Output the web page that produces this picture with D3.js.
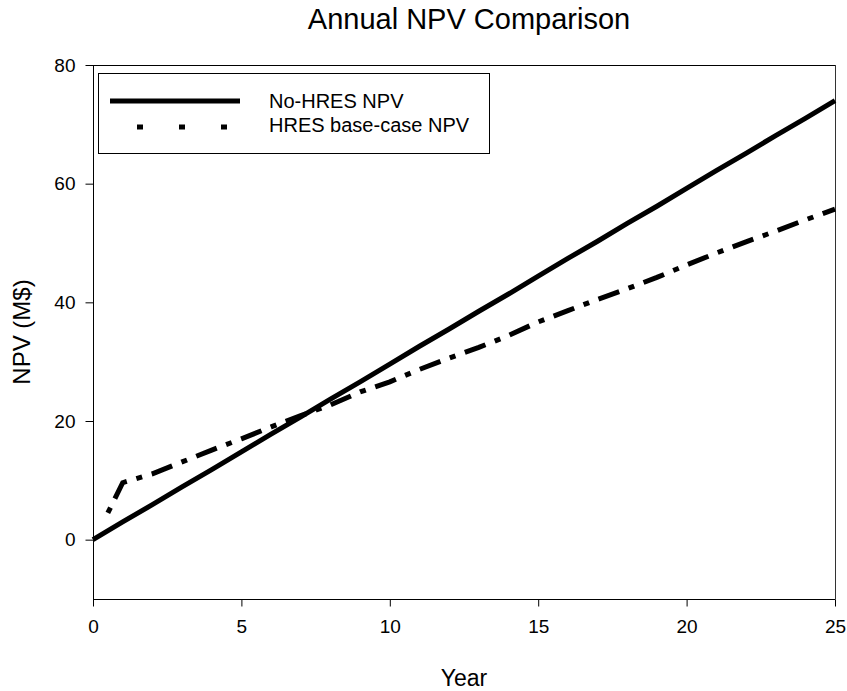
<!DOCTYPE html>
<html>
<head>
<meta charset="utf-8">
<script src="https://cdn.jsdelivr.net/npm/d3@7"></script>
<style>
  html, body { margin: 0; padding: 0; background: #fff; }
  text { font-family: "Liberation Sans", Arial, sans-serif; fill: #000; }
</style>
</head>
<body>
<svg id="chart" width="847" height="691"></svg>
<script>
// ---- Data ----
const years = [0, 1, 2, 3, 4, 5, 6, 7, 8, 9, 10, 11, 12, 13, 14, 15, 16, 17, 18, 19, 20, 21, 22, 23, 24, 25];
const noHresNPV = [0, 3.0, 5.9, 8.9, 11.8, 14.8, 17.8, 20.7, 23.7, 26.6, 29.6, 32.6, 35.5, 38.5, 41.4, 44.4, 47.4, 50.3, 53.3, 56.2, 59.2, 62.2, 65.1, 68.1, 71.0, 74.0];
const hresYears = [0.5, 1, 2, 3, 4, 5, 6, 7, 8, 9, 10, 11, 12, 13, 14, 15, 16, 17, 18, 19, 20, 21, 22, 23, 24, 25];
const hresNPV = [4.5, 9.6, 11.1, 13.1, 15.1, 17.0, 19.0, 20.9, 22.7, 24.9, 26.6, 28.7, 30.6, 32.4, 34.4, 36.7, 38.6, 40.5, 42.3, 44.2, 46.3, 48.3, 50.2, 52.0, 53.9, 55.7];
const xTicks = [0, 5, 10, 15, 20, 25];
const yTicks = [0, 20, 40, 60, 80];
const seriesNames = ["No-HRES NPV", "HRES base-case NPV"];
const titleText = "Annual NPV Comparison";
const xLabel = "Year";
const yLabel = "NPV (M$)";

// ---- Layout ----
const svg = d3.select("#chart");
const plot = { left: 93, right: 835, top: 65, bottom: 599 };

const x = d3.scaleLinear().domain([0, 25]).range([plot.left, plot.right]);
const y = d3.scaleLinear().domain([-10, 80]).range([plot.bottom, plot.top]);

// Frame (top & right)
svg.append("line").attr("x1", plot.left).attr("x2", plot.right + 0.5)
  .attr("y1", plot.top + 0.5).attr("y2", plot.top + 0.5)
  .attr("stroke", "#000").attr("stroke-width", 1);
svg.append("line").attr("x1", plot.right + 0.5).attr("x2", plot.right + 0.5)
  .attr("y1", plot.top).attr("y2", plot.bottom)
  .attr("stroke", "#333").attr("stroke-width", 1);

// Axes
const xAxis = d3.axisBottom(x).tickValues(xTicks).tickSize(7).tickPadding(13).tickFormat(d3.format("d"));
const yAxis = d3.axisLeft(y).tickValues(yTicks).tickSize(8).tickPadding(10).tickFormat(d3.format("d"));

const gx = svg.append("g").attr("transform", `translate(0,${plot.bottom + 0.5})`).call(xAxis);
const gy = svg.append("g").attr("transform", `translate(${plot.left + 0.5},0)`).call(yAxis);
[gx, gy].forEach(g => {
  g.select(".domain").attr("stroke", "#000").attr("stroke-width", 1);
  g.selectAll(".tick line").attr("stroke", "#000");
  g.selectAll(".tick text").style("font-size", "19px").style("font-family", "'Liberation Sans', Arial, sans-serif").attr("fill", "#000");
});
gx.select(".domain").attr("d", `M${plot.left},0H${plot.right + 0.5}`);
gy.select(".domain").attr("d", `M0,${plot.bottom}V${plot.top}`);

// Lines
const solidLine = d3.line().x((d, i) => x(years[i])).y(d => y(d));
const hresLine = d3.line().x((d, i) => x(hresYears[i])).y(d => y(d));

svg.append("path").datum(noHresNPV)
  .attr("d", solidLine)
  .attr("fill", "none").attr("stroke", "#000").attr("stroke-width", 5)
  .attr("stroke-linejoin", "round");

svg.append("path").datum(hresNPV)
  .attr("d", hresLine)
  .attr("fill", "none").attr("stroke", "#000").attr("stroke-width", 5)
  .attr("stroke-dasharray", "22 10 6 10")
  .attr("stroke-dashoffset", 32);

// Title & axis labels
svg.append("text").attr("x", (plot.left + plot.right) / 2 + 5).attr("y", 29)
  .attr("text-anchor", "middle").style("font-size", "29px").text(titleText);
svg.append("text").attr("x", (plot.left + plot.right) / 2).attr("y", 686)
  .attr("text-anchor", "middle").style("font-size", "23px").text(xLabel);
svg.append("text").attr("transform", `translate(30,${(plot.top + plot.bottom) / 2}) rotate(-90)`)
  .attr("text-anchor", "middle").style("font-size", "24px").text(yLabel);

// Legend
const lg = svg.append("g");
lg.append("rect").attr("x", 98.5).attr("y", 73.5).attr("width", 391).attr("height", 80)
  .attr("fill", "#fff").attr("stroke", "#000").attr("stroke-width", 1);
lg.append("line").attr("x1", 110).attr("x2", 240).attr("y1", 101).attr("y2", 101)
  .attr("stroke", "#000").attr("stroke-width", 5);
lg.append("line").attr("x1", 110).attr("x2", 240).attr("y1", 127).attr("y2", 127)
  .attr("stroke", "#000").attr("stroke-width", 5)
  .attr("stroke-dasharray", "6 36").attr("stroke-dashoffset", -27);
lg.selectAll("text.leg").data(seriesNames).join("text").attr("class", "leg")
  .attr("x", 269).attr("y", (d, i) => 108 + i * 24)
  .style("font-size", "20px").text(d => d);
</script>
</body>
</html>
